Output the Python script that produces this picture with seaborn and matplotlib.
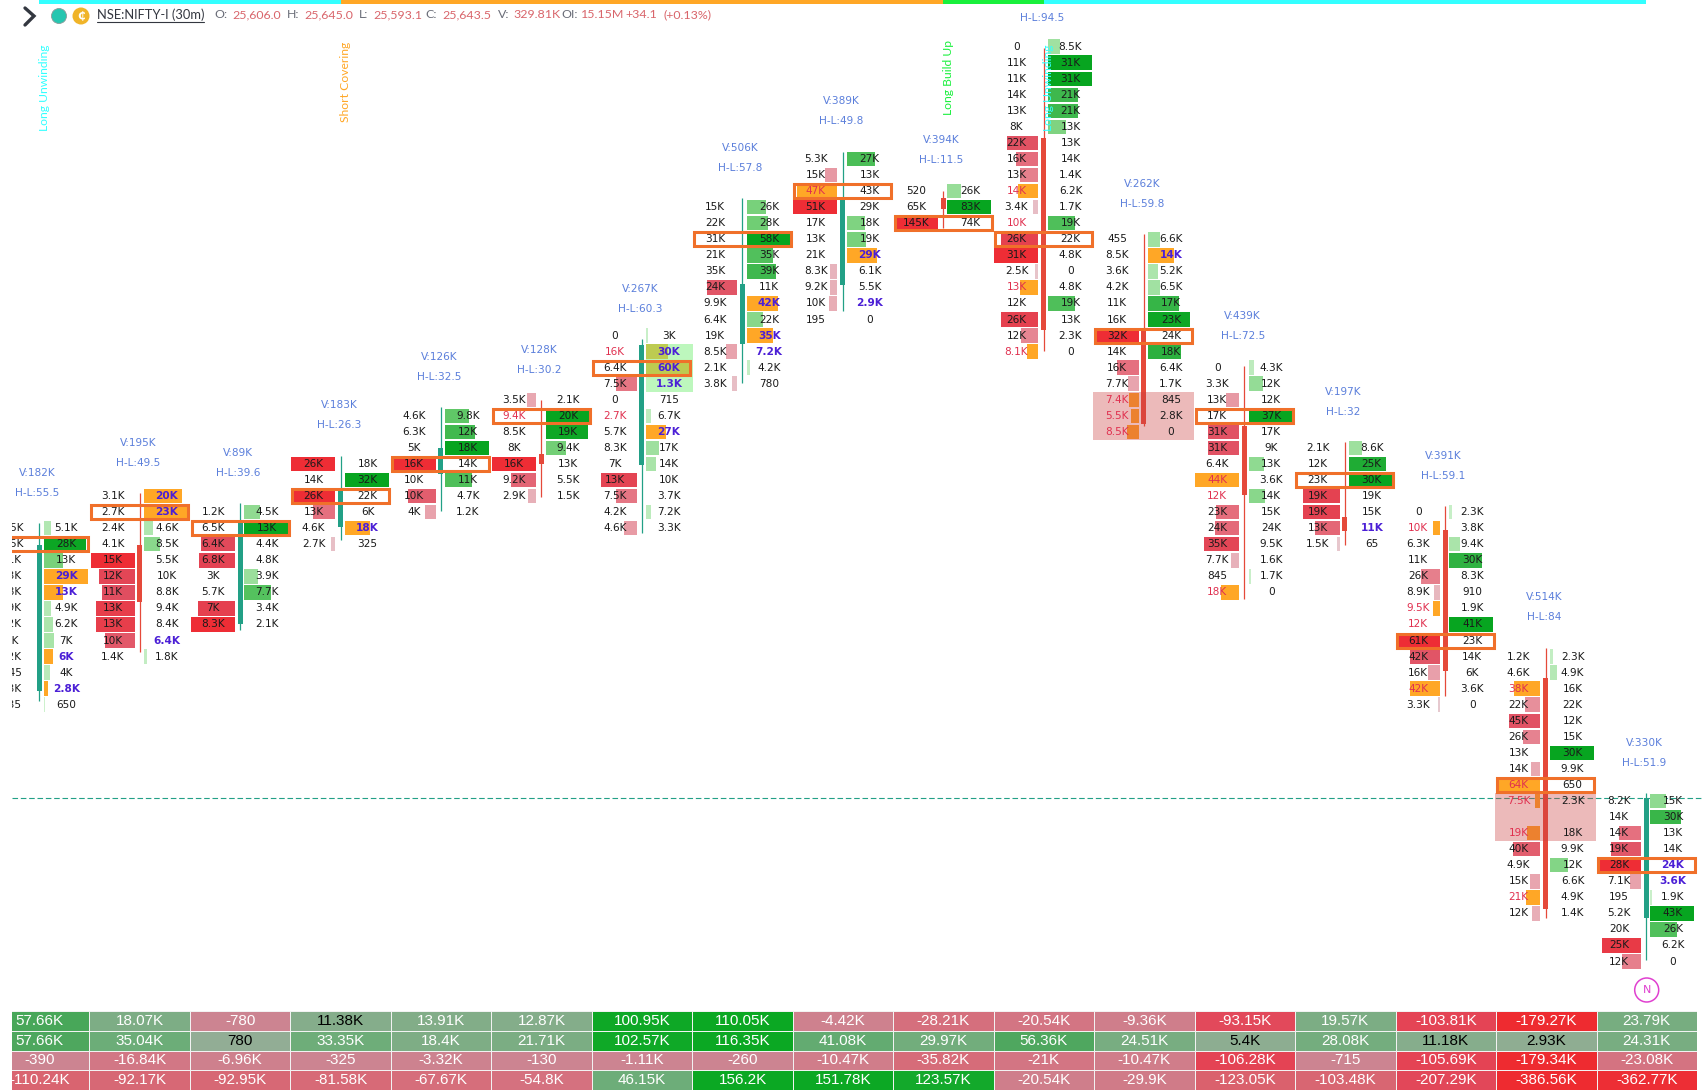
import numpy as np
import pandas as pd
import matplotlib
matplotlib.use("Agg")
import matplotlib.pyplot as plt
from matplotlib import font_manager
from matplotlib.colors import LinearSegmentedColormap
from matplotlib.patches import Circle, Rectangle
import seaborn as sns

# --- Candles (prices) ---
OPEN_ = [25676.8, 25722.3, 25697.6, 25728.0, 25744.4, 25750.6, 25747.2, 25784.9, 25803.3,
         25830.3, 25849.0, 25789.2, 25759.3, 25731.0, 25726.9, 25680.8, 25606.0]
CLOSE = [25722.3, 25704.5, 25729.7, 25739.7, 25752.5, 25747.5, 25784.6, 25803.6, 25830.0,
         25827.0, 25789.2, 25760.0, 25737.8, 25726.6, 25683.1, 25608.9, 25643.5]
HIGH = [25729.1, 25738.5, 25735.3, 25750.1, 25765.2, 25767.4, 25786.4, 25830.4, 25844.8,
        25832.5, 25877.1, 25819.1, 25778.0, 25754.3, 25734.4, 25690.2, 25645.0]
LOW = [25673.6, 25689.0, 25695.7, 25723.8, 25732.7, 25737.2, 25726.1, 25772.6, 25795.0,
       25821.0, 25782.6, 25759.3, 25705.5, 25722.3, 25675.3, 25606.2, 25593.1]
TOP_LEVEL = [25727.5, 25737.5, 25732.5, 25747.5, 25762.5, 25767.5, 25787.5, 25827.5, 25842.5,
             25832.5, 25877.5, 25817.5, 25777.5, 25752.5, 25732.5, 25687.5, 25642.5]
VOLUME = ["V:182K", "V:195K", "V:89K", "V:183K", "V:126K", "V:128K", "V:267K", "V:506K", "V:389K",
          "V:394K", "", "V:262K", "V:439K", "V:197K", "V:391K", "V:514K", "V:330K"]
RANGE = ["H-L:55.5", "H-L:49.5", "H-L:39.6", "H-L:26.3", "H-L:32.5", "H-L:30.2", "H-L:60.3", "H-L:57.8",
         "H-L:49.8", "H-L:11.5", "H-L:94.5", "H-L:59.8", "H-L:72.5", "H-L:32", "H-L:59.1", "H-L:84", "H-L:51.9"]
# price where the V: label sits, the H-L: label is one gap under it
VOLUME_LEVEL = [25744.7, 25754.0, 25750.9, 25765.9, 25780.8, 25783.0, 25802.0, 25845.9, 25860.6,
                25848.4, 25892.7, 25834.7, 25793.6, 25769.9, 25750.0, 25706.1, 25660.6]

# --- Footprint rows, top to bottom ---
BID_LABELS = [
    ["3.5K", "7.5K", "11K", "13K", "18K", "19K", "12K", "7K", "12K", "445", "13K", "135"],
    ["3.1K", "2.7K", "2.4K", "4.1K", "15K", "12K", "11K", "13K", "13K", "10K", "1.4K"],
    ["1.2K", "6.5K", "6.4K", "6.8K", "3K", "5.7K", "7K", "8.3K"],
    ["26K", "14K", "26K", "13K", "4.6K", "2.7K"],
    ["4.6K", "6.3K", "5K", "16K", "10K", "10K", "4K"],
    ["3.5K", "9.4K", "8.5K", "8K", "16K", "9.2K", "2.9K"],
    ["0", "16K", "6.4K", "7.5K", "0", "2.7K", "5.7K", "8.3K", "7K", "13K", "7.5K", "4.2K", "4.6K"],
    ["15K", "22K", "31K", "21K", "35K", "24K", "9.9K", "6.4K", "19K", "8.5K", "2.1K", "3.8K"],
    ["5.3K", "15K", "47K", "51K", "17K", "13K", "21K", "8.3K", "9.2K", "10K", "195"],
    ["520", "65K", "145K"],
    ["0", "11K", "11K", "14K", "13K", "8K", "22K", "16K", "13K", "14K", "3.4K", "10K", "26K", "31K", "2.5K",
     "13K", "12K", "26K", "12K", "8.1K"],
    ["455", "8.5K", "3.6K", "4.2K", "11K", "16K", "32K", "14K", "16K", "7.7K", "7.4K", "5.5K", "8.5K"],
    ["0", "3.3K", "13K", "17K", "31K", "31K", "6.4K", "44K", "12K", "23K", "24K", "35K", "7.7K", "845", "18K"],
    ["2.1K", "12K", "23K", "19K", "19K", "13K", "1.5K"],
    ["0", "10K", "6.3K", "11K", "26K", "8.9K", "9.5K", "12K", "61K", "42K", "16K", "42K", "3.3K"],
    ["1.2K", "4.6K", "38K", "22K", "45K", "26K", "13K", "14K", "64K", "7.5K", "", "19K", "40K", "4.9K", "15K",
     "21K", "12K"],
    ["8.2K", "14K", "14K", "19K", "28K", "7.1K", "195", "5.2K", "20K", "25K", "12K"],
]
ASK_LABELS = [
    ["5.1K", "28K", "13K", "29K", "13K", "4.9K", "6.2K", "7K", "6K", "4K", "2.8K", "650"],
    ["20K", "23K", "4.6K", "8.5K", "5.5K", "10K", "8.8K", "9.4K", "8.4K", "6.4K", "1.8K"],
    ["4.5K", "13K", "4.4K", "4.8K", "3.9K", "7.7K", "3.4K", "2.1K"],
    ["18K", "32K", "22K", "6K", "18K", "325"],
    ["9.8K", "12K", "18K", "14K", "11K", "4.7K", "1.2K"],
    ["2.1K", "20K", "19K", "9.4K", "13K", "5.5K", "1.5K"],
    ["3K", "30K", "60K", "1.3K", "715", "6.7K", "27K", "17K", "14K", "10K", "3.7K", "7.2K", "3.3K"],
    ["26K", "28K", "58K", "35K", "39K", "11K", "42K", "22K", "35K", "7.2K", "4.2K", "780"],
    ["27K", "13K", "43K", "29K", "18K", "19K", "29K", "6.1K", "5.5K", "2.9K", "0"],
    ["26K", "83K", "74K"],
    ["8.5K", "31K", "31K", "21K", "21K", "13K", "13K", "14K", "1.4K", "6.2K", "1.7K", "19K", "22K", "4.8K", "0",
     "4.8K", "19K", "13K", "2.3K", "0"],
    ["6.6K", "14K", "5.2K", "6.5K", "17K", "23K", "24K", "18K", "6.4K", "1.7K", "845", "2.8K", "0"],
    ["4.3K", "12K", "12K", "37K", "17K", "9K", "13K", "3.6K", "14K", "15K", "24K", "9.5K", "1.6K", "1.7K", "0"],
    ["8.6K", "25K", "30K", "19K", "15K", "11K", "65"],
    ["2.3K", "3.8K", "9.4K", "30K", "8.3K", "910", "1.9K", "41K", "23K", "14K", "6K", "3.6K", "0"],
    ["2.3K", "4.9K", "16K", "22K", "12K", "15K", "30K", "9.9K", "650", "2.3K", "", "18K", "9.9K", "12K", "6.6K",
     "4.9K", "1.4K"],
    ["15K", "30K", "13K", "14K", "24K", "3.6K", "1.9K", "43K", "26K", "6.2K", "0"],
]
# . nothing, b bar, o orange bar + marked text, x marked text only
BID_FLAGS = ["............", "....bbbbbb.", "..bb..bb", "b.bb.b", "...b.bb", "bx..bbb", ".x.b.x...bb.b",
             ".....b...b.b", ".bob...bbb.", "..b", "......bbbobxbbbo.bbo", "......b.bbooo", "..b.bb.oxbbbb.o",
             "...bbbb", ".o..bboxbbbob", "..obbb.boo.ob.bob", "..bbbb...bb"]
ASK_FLAGS = ["bbboobbbobob", "oobb.....xb", "bb..bb..", ".b..o.", "bbb.b..", ".bbb...",
             "boox.bobb..b.", "bbbbb.oboxb.", "b...bbo..x.", "bb.",
             "bbbbbb.....b....b...", "bobbbb.b.....", "bb.b..b.b....b.", "bbb..x.", "b.bb...b.....",
             "bb....b......b...", "bb..xxbbb.."]
BOX_ROW = [1, 1, 1, 2, 3, 1, 2, 2, 2, 2, 12, 6, 3, 2, 8, 8, 4]

# stacked imbalance bands: candle, first row, last row, side
ZONE_CANDLE = [6, 11, 15]
ZONE_FIRST = [1, 10, 9]
ZONE_LAST = [3, 12, 11]
ZONE_SIDE = ["ask", "both", "both"]

# --- Top strip and rotated signals ---
STRIP_START = [0, 3, 9, 10]
STRIP_END = [3, 9, 10, 16]
STRIP_COLORS = ["#33ffff", "#ffa726", "#19f03c", "#33ffff"]
SIGNAL_CANDLE = [0, 3, 9, 10]
SIGNAL_TEXT = ["Long Unwinding", "Short Covering", "Long Build Up", "Long Unwinding"]
SIGNAL_COLORS = ["#33ffff", "#ffa726", "#19f03c", "#33ffff"]
SIGNAL_LEVEL = [25864.6, 25866.5, 25867.9, 25864.6]

# --- Bottom table ---
TABLE_LABELS = [
    ["57.66K", "18.07K", "-780", "11.38K", "13.91K", "12.87K", "100.95K", "110.05K", "-4.42K", "-28.21K", "-20.54K",
     "-9.36K", "-93.15K", "19.57K", "-103.81K", "-179.27K", "23.79K"],
    ["57.66K", "35.04K", "780", "33.35K", "18.4K", "21.71K", "102.57K", "116.35K", "41.08K", "29.97K", "56.36K",
     "24.51K", "5.4K", "28.08K", "11.18K", "2.93K", "24.31K"],
    ["-390", "-16.84K", "-6.96K", "-325", "-3.32K", "-130", "-1.11K", "-260", "-10.47K", "-35.82K", "-21K",
     "-10.47K", "-106.28K", "-715", "-105.69K", "-179.34K", "-23.08K"],
    ["-110.24K", "-92.17K", "-92.95K", "-81.58K", "-67.67K", "-54.8K", "46.15K", "156.2K", "151.78K", "123.57K",
     "-20.54K", "-29.9K", "-123.05K", "-103.48K", "-207.29K", "-386.56K", "-362.77K"],
]

HEADER_NAMES = ["O:", "H:", "L:", "C:", "V:", "OI:"]
HEADER_VALUES = ["25,606.0", "25,645.0", "25,593.1", "25,643.5", "329.81K", "15.15M"]

W, H = 1703, 1090
PX_X = 1 / 100.42   # candle units per pixel
PX_Y = 1 / 3.21     # price points per pixel
LEVEL = 5.0
BAR_MAX = 44

TEAL = "#22a086"
RED = "#e5493a"
ORANGE = "#ffa726"
BOX = "#f0702a"
BLUE = "#5b7fdb"
PURPLE = "#4b1fd6"
MARK_RED = "#e0304f"
TEXT = "#1a1a1a"


def parse(label):
    if label == "":
        return 0.0
    if label.endswith("K"):
        return float(label[:-1]) * 1000
    return float(label)


sns.set_theme(style="white")
plt.rcParams["font.family"] = ["DejaVu Sans"]
names = {f.name for f in font_manager.fontManager.ttflist}
table_font = "Liberation Sans Narrow" if "Liberation Sans Narrow" in names else "Liberation Sans"

red_cmap = sns.blend_palette(["#e6d3d8", "#e8a2ac", "#e5707f", "#e04c5e", "#ee2d35"], as_cmap=True)
green_cmap = sns.blend_palette(["#d0f2d0", "#a6e3a6", "#6ccc70", "#2cb03f", "#07a520"], as_cmap=True)

fig = plt.figure(figsize=(W / 100, H / 100), dpi=100, facecolor="white")

# --- Footprint chart: x is candle number, y is price ---
ax = fig.add_axes([12 / W, (H - 1005) / H, (W - 12) / W, 1005 / H])
ax.set_xlim(-27.3 * PX_X, (W - 39.3) * PX_X)
ax.set_ylim(25645 - 212 * PX_Y, 25645 + 793 * PX_Y)
ax.axis("off")

for start, end, color in zip(STRIP_START, STRIP_END, STRIP_COLORS):
    ax.barh(ax.get_ylim()[1] - 1.9 * PX_Y, end - start, left=start, height=3.8 * PX_Y, color=color,
            linewidth=0, zorder=1)

for c, word, color, level in zip(SIGNAL_CANDLE, SIGNAL_TEXT, SIGNAL_COLORS, SIGNAL_LEVEL):
    ax.text(c + 5 * PX_X, level, word, rotation=90, ha="center", va="center",
            color=color, fontsize=8.7, family="Lato", zorder=6)

ax.axhline(CLOSE[-1], color=TEAL, lw=0.8, ls=(0, (5, 2.5)), zorder=1)

for i in range(len(OPEN_)):
    bid_values = [parse(v) for v in BID_LABELS[i]]
    ask_values = [parse(v) for v in ASK_LABELS[i]]
    bid_max = max(bid_values)
    ask_max = max(ask_values)

    for r in range(len(BID_LABELS[i])):
        level = TOP_LEVEL[i] - LEVEL * r
        flag = BID_FLAGS[i][r]
        size = bid_values[r] / bid_max
        if flag in "bo":
            color = ORANGE if flag == "o" else red_cmap(size)
            ax.barh(level, -size * BAR_MAX * PX_X, left=i - 5.2 * PX_X, height=14.5 * PX_Y,
                    color=color, linewidth=0, zorder=2)
        ax.text(i - 27 * PX_X, level, BID_LABELS[i][r], ha="center", va="center", fontsize=7.6,
                color=MARK_RED if flag in "ox" else TEXT, clip_on=True, zorder=6)

        flag = ASK_FLAGS[i][r]
        size = ask_values[r] / ask_max
        if flag in "bo":
            color = ORANGE if flag == "o" else green_cmap(size)
            ax.barh(level, size * BAR_MAX * PX_X, left=i + 4.3 * PX_X, height=14.5 * PX_Y,
                    color=color, linewidth=0, zorder=2)
        marked = flag in "ox"
        ax.text(i + 27 * PX_X, level, ASK_LABELS[i][r], ha="center", va="center", fontsize=7.6,
                color=PURPLE if marked else TEXT, fontweight="bold" if marked else "normal",
                clip_on=True, zorder=6)

    color = TEAL if CLOSE[i] >= OPEN_[i] else RED
    ax.vlines(i, LOW[i], HIGH[i], color=color, lw=0.9, zorder=3)
    ax.bar(i, abs(CLOSE[i] - OPEN_[i]), bottom=min(OPEN_[i], CLOSE[i]), width=5 * PX_X,
           color=color, linewidth=0, zorder=3)

    box_level = TOP_LEVEL[i] - LEVEL * BOX_ROW[i]
    ax.add_patch(Rectangle((i - 48.5 * PX_X, box_level - 7 * PX_Y), 97 * PX_X, 14 * PX_Y, fill=False,
                           edgecolor=BOX, lw=2.2, zorder=5))

    ax.text(i - 1.7 * PX_X, VOLUME_LEVEL[i], VOLUME[i], ha="center", va="center", fontsize=7.6, color=BLUE,
            clip_on=True, zorder=6)
    ax.text(i - 1.7 * PX_X, VOLUME_LEVEL[i] - 20 * PX_Y, RANGE[i], ha="center", va="center", fontsize=7.6,
            color=BLUE, clip_on=True, zorder=6)

for c, first, last, side in zip(ZONE_CANDLE, ZONE_FIRST, ZONE_LAST, ZONE_SIDE):
    top_price = TOP_LEVEL[c] - LEVEL * first + 8 * PX_Y
    bottom_price = TOP_LEVEL[c] - LEVEL * last - 8 * PX_Y
    if side == "ask":
        ax.add_patch(Rectangle((c + 3.7 * PX_X, bottom_price), 47 * PX_X, top_price - bottom_price,
                               color="#7cf07c", alpha=0.5, linewidth=0, zorder=4))
    else:
        ax.add_patch(Rectangle((c - 50.5 * PX_X, bottom_price), 101 * PX_X, top_price - bottom_price,
                               color="#cc4040", alpha=0.36, linewidth=0, zorder=4))

# --- Header and small decorations, in picture pixels ---
top = fig.add_axes([0, 0, 1, 1], facecolor="none")
top.set_xlim(0, W)
top.set_ylim(H, 0)
top.axis("off")

top.plot([25, 34, 25], [8, 16, 25], color="#333740", lw=2.4, solid_joinstyle="miter")
top.add_patch(Circle((59, 16), 7.5, facecolor="#26c6b0", edgecolor="#8a9a9a", lw=0.6))
top.add_patch(Circle((81, 16), 8.5, facecolor="#f0b429", edgecolor="none"))
top.text(81, 16, "₵", ha="center", va="center", color="white", fontsize=8, fontweight="bold", family="DejaVu Sans")
top.text(97, 15, "NSE:NIFTY-I (30m)", ha="left", va="center", color="#333740", fontsize=9.3, family="Lato")
top.plot([97, 204], [22, 22], color="#333740", lw=0.8)
for x_name, x_value, name, value in zip([214, 287, 359, 425, 497.5, 561], [232, 304, 373, 442, 513, 581],
                                        HEADER_NAMES, HEADER_VALUES):
    top.text(x_name, 15, name, ha="left", va="center", color="#6a6d78", fontsize=8.9, family="Lato")
    top.text(x_value, 15, value, ha="left", va="center", color="#d9656b", fontsize=8.9, family="Lato")
top.text(625, 15, "+34.1", ha="left", va="center", color="#d9656b", fontsize=8.9, family="Lato")
top.text(664, 15, "(+0.13%)", ha="left", va="center", color="#d9656b", fontsize=8.9, family="Lato")

top.add_patch(Circle((1646.7, 990), 12, fill=False, edgecolor="#e040d0", lw=1.1))
top.text(1646.7, 990, "N", ha="center", va="center", color="#e040d0", fontsize=8)

# --- Bottom table ---
table_values = np.array([[parse(v) for v in row] for row in TABLE_LABELS])
# positive and negative cells are shaded on their own scale in each row
pos_max = np.maximum(table_values, 0).max(axis=1, keepdims=True)
neg_max = np.maximum(-table_values, 0).max(axis=1, keepdims=True)
table_share = np.where(table_values >= 0, table_values / np.where(pos_max == 0, 1, pos_max),
                       table_values / np.where(neg_max == 0, 1, neg_max))
table_df = pd.DataFrame(table_share)

pos = [(0.0, "#ee2b30"), (0.225, "#e34658"), (0.35, "#d9636f"), (0.425, "#d5707e"), (0.5, "#cc8592"),
       (0.5, "#93ad95"), (0.65, "#6cad78"), (0.75, "#4ea75e"), (0.9, "#12a92a"), (1.0, "#0ba823")]
table_cmap = LinearSegmentedColormap.from_list("table", pos)

tab = fig.add_axes([12 / W, 0, (1697 - 12) / W, 79 / H])
sns.heatmap(table_df, ax=tab, cmap=table_cmap, vmin=-1, vmax=1, cbar=False, annot=np.array(TABLE_LABELS), fmt="",
            xticklabels=False, yticklabels=False, linewidths=0.7, linecolor="#f2f2f2",
            annot_kws={"fontsize": 11, "family": table_font})
tab.set_xlim(23 * PX_X, 17)
for t, value in zip(tab.texts, table_values.ravel()):
    t.set_clip_on(True)
    t.set_color("black" if 0 <= value < 12000 else "white")

fig.savefig("out.png", dpi=100)
